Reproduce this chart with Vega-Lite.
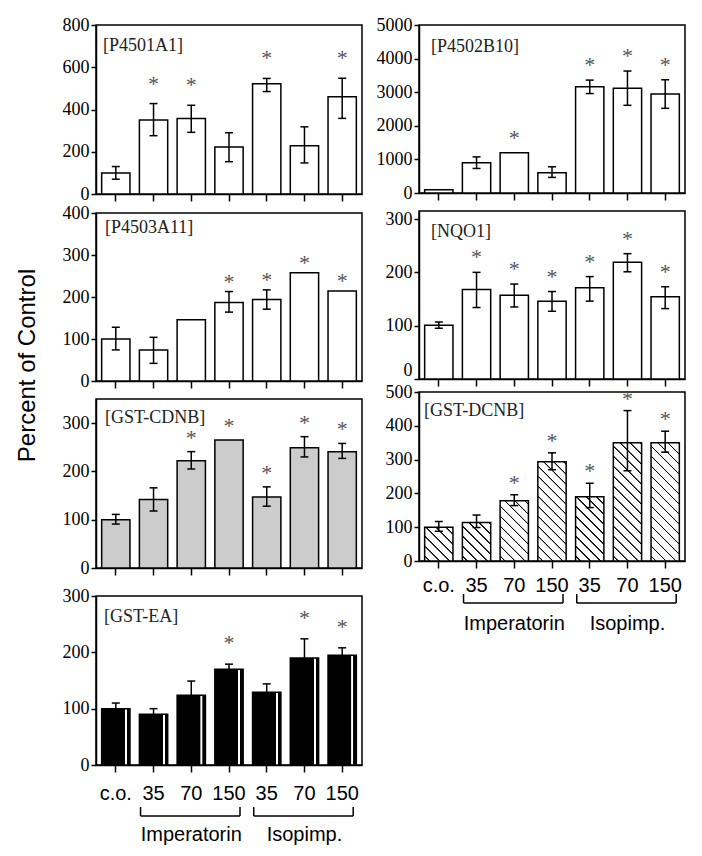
{
"$schema":"https://vega.github.io/schema/vega-lite/v6.json",
"padding":{"left":14,"top":15,"right":2,"bottom":2},
"background":"white",
"datasets":{"d":[
{"p":"A1","k":"c.o.","v":100,"lo":70,"hi":130,"s":0},
{"p":"A1","k":"I35","v":350,"lo":276,"hi":428,"s":1},
{"p":"A1","k":"I70","v":357,"lo":292,"hi":420,"s":1},
{"p":"A1","k":"I150","v":222,"lo":153,"hi":290,"s":0},
{"p":"A1","k":"P35","v":522,"lo":485,"hi":547,"s":1},
{"p":"A1","k":"P70","v":228,"lo":147,"hi":318,"s":0},
{"p":"A1","k":"P150","v":460,"lo":358,"hi":548,"s":1},
{"p":"B10","k":"c.o.","v":100,"lo":100,"hi":100,"s":0},
{"p":"B10","k":"I35","v":900,"lo":730,"hi":1075,"s":0},
{"p":"B10","k":"I70","v":1200,"lo":1200,"hi":1200,"s":1},
{"p":"B10","k":"I150","v":600,"lo":465,"hi":780,"s":0},
{"p":"B10","k":"P35","v":3160,"lo":2960,"hi":3360,"s":1},
{"p":"B10","k":"P70","v":3120,"lo":2610,"hi":3630,"s":1},
{"p":"B10","k":"P150","v":2950,"lo":2520,"hi":3370,"s":1},
{"p":"A11","k":"c.o.","v":100,"lo":74,"hi":128,"s":0},
{"p":"A11","k":"I35","v":74,"lo":42,"hi":104,"s":0},
{"p":"A11","k":"I70","v":146,"lo":146,"hi":146,"s":0},
{"p":"A11","k":"I150","v":187,"lo":164,"hi":213,"s":1},
{"p":"A11","k":"P35","v":194,"lo":171,"hi":217,"s":1},
{"p":"A11","k":"P70","v":258,"lo":258,"hi":258,"s":1},
{"p":"A11","k":"P150","v":214,"lo":214,"hi":214,"s":1},
{"p":"NQ","k":"c.o.","v":101,"lo":95,"hi":107,"s":0},
{"p":"NQ","k":"I35","v":168,"lo":134,"hi":200,"s":1},
{"p":"NQ","k":"I70","v":157,"lo":135,"hi":178,"s":1},
{"p":"NQ","k":"I150","v":146,"lo":127,"hi":164,"s":1},
{"p":"NQ","k":"P35","v":171,"lo":146,"hi":192,"s":1},
{"p":"NQ","k":"P70","v":219,"lo":201,"hi":235,"s":1},
{"p":"NQ","k":"P150","v":154,"lo":132,"hi":173,"s":1},
{"p":"CD","k":"c.o.","v":100,"lo":91,"hi":111,"s":0},
{"p":"CD","k":"I35","v":142,"lo":118,"hi":166,"s":0},
{"p":"CD","k":"I70","v":222,"lo":205,"hi":241,"s":1},
{"p":"CD","k":"I150","v":265,"lo":265,"hi":265,"s":1},
{"p":"CD","k":"P35","v":147,"lo":128,"hi":168,"s":1},
{"p":"CD","k":"P70","v":249,"lo":230,"hi":272,"s":1},
{"p":"CD","k":"P150","v":241,"lo":227,"hi":258,"s":1},
{"p":"DC","k":"c.o.","v":100,"lo":88,"hi":117,"s":0},
{"p":"DC","k":"I35","v":114,"lo":99,"hi":136,"s":0},
{"p":"DC","k":"I70","v":178,"lo":164,"hi":196,"s":1},
{"p":"DC","k":"I150","v":294,"lo":270,"hi":320,"s":1},
{"p":"DC","k":"P35","v":190,"lo":158,"hi":230,"s":1},
{"p":"DC","k":"P70","v":350,"lo":267,"hi":445,"s":1},
{"p":"DC","k":"P150","v":350,"lo":322,"hi":384,"s":1},
{"p":"EA","k":"c.o.","v":100,"lo":90,"hi":110,"s":0},
{"p":"EA","k":"I35","v":90,"lo":80,"hi":100,"s":0},
{"p":"EA","k":"I70","v":124,"lo":99,"hi":149,"s":0},
{"p":"EA","k":"I150","v":170,"lo":161,"hi":179,"s":1},
{"p":"EA","k":"P35","v":129,"lo":114,"hi":144,"s":0},
{"p":"EA","k":"P70","v":190,"lo":156,"hi":224,"s":1},
{"p":"EA","k":"P150","v":195,"lo":182,"hi":208,"s":1}
]},
"data":{"name":"d"},
"config":{
"font":"Liberation Sans",
"view":{"stroke":null},
"axis":{"grid":false,"domainColor":"black","domainWidth":1.5,"tickColor":"black","tickWidth":1.5,"labelColor":"black","titleColor":"black"},
"axisX":{"tickSize":7,"labelAngle":0,"labelFont":"Liberation Sans","labelFontSize":20},
"axisY":{"tickSize":5,"labelPadding":2,"labelFont":"Liberation Serif","labelFontSize":18,"labelOverlap":false,"format":"d"}
},
"spacing":12,
"hconcat":[
{"spacing":0,"bounds":"flush","vconcat":[
{"width":266,"height":169,"view":{"stroke":"black","strokeWidth":1.5},
"title":{"text":"[P4501A1]","frame":"group","anchor":"start","offset":-53,"dx":7,"baseline":"alphabetic","font":"Liberation Serif","fontSize":18,"fontWeight":"normal","color":"#222"},
"transform":[{"filter":"datum.p=='A1'"}],
"encoding":{"x":{"field":"k","type":"nominal","title":null,"scale":{"domain":["c.o.","I35","I70","I150","P35","P70","P150"],"paddingInner":0.25,"paddingOuter":0.15},"axis":{"labels":false}}},
"layer":[
{"mark":{"type":"bar","fill":"white","stroke":"black","strokeWidth":1.5},"encoding":{"y":{"field":"v","type":"quantitative","title":null,"scale":{"domain":[0,800],"nice":false},"axis":{"values":[0,200,400,600,800],"tickCount":5,"labelOverlap":false,"format":"d"}}}},
{"transform":[{"filter":"datum.hi>datum.lo"}],"mark":{"type":"rule","color":"black","strokeWidth":1.5},"encoding":{"y":{"field":"lo","type":"quantitative","title":null,"axis":{"values":[0,200,400,600,800],"tickCount":5,"labelOverlap":false,"format":"d"}},"y2":{"field":"hi","title":null}}},
{"transform":[{"filter":"datum.hi>datum.lo"}],"mark":{"type":"tick","color":"black","size":8,"thickness":1.5,"opacity":1},"encoding":{"y":{"field":"lo","type":"quantitative","title":null,"axis":{"values":[0,200,400,600,800],"tickCount":5,"labelOverlap":false,"format":"d"}}}},
{"transform":[{"filter":"datum.hi>datum.lo"}],"mark":{"type":"tick","color":"black","size":8,"thickness":1.5,"opacity":1},"encoding":{"y":{"field":"hi","type":"quantitative","title":null,"axis":{"values":[0,200,400,600,800],"tickCount":5,"labelOverlap":false,"format":"d"}}}},
{"transform":[{"filter":"datum.s==1"}],"mark":{"type":"text","text":"*","font":"Liberation Serif","fontSize":22,"color":"#555","baseline":"alphabetic","dy":-13},"encoding":{"y":{"field":"hi","type":"quantitative","title":null,"axis":{"values":[0,200,400,600,800],"tickCount":5,"labelOverlap":false,"format":"d"}}}}
]},
{"width":10,"height":19,"data":{"values":[]},"mark":{"type":"point","opacity":0}},
{"width":266,"height":168,"view":{"stroke":"black","strokeWidth":1.5},
"title":{"text":"[P4503A11]","frame":"group","anchor":"start","offset":-47,"dx":9,"baseline":"alphabetic","font":"Liberation Serif","fontSize":18,"fontWeight":"normal","color":"#222"},
"transform":[{"filter":"datum.p=='A11'"}],
"encoding":{"x":{"field":"k","type":"nominal","title":null,"scale":{"domain":["c.o.","I35","I70","I150","P35","P70","P150"],"paddingInner":0.25,"paddingOuter":0.15},"axis":{"labels":false}}},
"layer":[
{"mark":{"type":"bar","fill":"white","stroke":"black","strokeWidth":1.5},"encoding":{"y":{"field":"v","type":"quantitative","title":"Percent of Control","scale":{"domain":[0,400],"nice":false},"axis":{"values":[0,100,200,300,400],"tickCount":5,"labelOverlap":false,"format":"d","title":"Percent of Control","titleFont":"Liberation Sans","titleFontSize":24,"titleFontWeight":"normal","titleX":-62,"titleY":152,"titleAngle":-90,"titleAlign":"center","titleBaseline":"alphabetic"}}}},
{"transform":[{"filter":"datum.hi>datum.lo"}],"mark":{"type":"rule","color":"black","strokeWidth":1.5},"encoding":{"y":{"field":"lo","type":"quantitative","title":"Percent of Control","axis":{"values":[0,100,200,300,400],"tickCount":5,"labelOverlap":false,"format":"d","title":"Percent of Control","titleFont":"Liberation Sans","titleFontSize":24,"titleFontWeight":"normal","titleX":-62,"titleY":152,"titleAngle":-90,"titleAlign":"center","titleBaseline":"alphabetic"}},"y2":{"field":"hi","title":"Percent of Control"}}},
{"transform":[{"filter":"datum.hi>datum.lo"}],"mark":{"type":"tick","color":"black","size":8,"thickness":1.5,"opacity":1},"encoding":{"y":{"field":"lo","type":"quantitative","title":"Percent of Control","axis":{"values":[0,100,200,300,400],"tickCount":5,"labelOverlap":false,"format":"d","title":"Percent of Control","titleFont":"Liberation Sans","titleFontSize":24,"titleFontWeight":"normal","titleX":-62,"titleY":152,"titleAngle":-90,"titleAlign":"center","titleBaseline":"alphabetic"}}}},
{"transform":[{"filter":"datum.hi>datum.lo"}],"mark":{"type":"tick","color":"black","size":8,"thickness":1.5,"opacity":1},"encoding":{"y":{"field":"hi","type":"quantitative","title":"Percent of Control","axis":{"values":[0,100,200,300,400],"tickCount":5,"labelOverlap":false,"format":"d","title":"Percent of Control","titleFont":"Liberation Sans","titleFontSize":24,"titleFontWeight":"normal","titleX":-62,"titleY":152,"titleAngle":-90,"titleAlign":"center","titleBaseline":"alphabetic"}}}},
{"transform":[{"filter":"datum.s==1"}],"mark":{"type":"text","text":"*","font":"Liberation Serif","fontSize":22,"color":"#555","baseline":"alphabetic","dy":-3},"encoding":{"y":{"field":"hi","type":"quantitative","title":"Percent of Control","axis":{"values":[0,100,200,300,400],"tickCount":5,"labelOverlap":false,"format":"d","title":"Percent of Control","titleFont":"Liberation Sans","titleFontSize":24,"titleFontWeight":"normal","titleX":-62,"titleY":152,"titleAngle":-90,"titleAlign":"center","titleBaseline":"alphabetic"}}}}
]},
{"width":10,"height":18,"data":{"values":[]},"mark":{"type":"point","opacity":0}},
{"width":266,"height":169,"view":{"stroke":"black","strokeWidth":1.5},
"title":{"text":"[GST-CDNB]","frame":"group","anchor":"start","offset":-42,"dx":9,"baseline":"alphabetic","font":"Liberation Serif","fontSize":18,"fontWeight":"normal","color":"#222"},
"transform":[{"filter":"datum.p=='CD'"}],
"encoding":{"x":{"field":"k","type":"nominal","title":null,"scale":{"domain":["c.o.","I35","I70","I150","P35","P70","P150"],"paddingInner":0.25,"paddingOuter":0.15},"axis":{"labels":false}}},
"layer":[
{"mark":{"type":"bar","fill":"#cccccc","stroke":"black","strokeWidth":1.5},"encoding":{"y":{"field":"v","type":"quantitative","title":null,"scale":{"domain":[0,350],"nice":false},"axis":{"values":[0,100,200,300],"tickCount":4,"labelOverlap":false,"format":"d"}}}},
{"transform":[{"filter":"datum.hi>datum.lo"}],"mark":{"type":"rule","color":"black","strokeWidth":1.5},"encoding":{"y":{"field":"lo","type":"quantitative","title":null,"axis":{"values":[0,100,200,300],"tickCount":4,"labelOverlap":false,"format":"d"}},"y2":{"field":"hi","title":null}}},
{"transform":[{"filter":"datum.hi>datum.lo"}],"mark":{"type":"tick","color":"black","size":8,"thickness":1.5,"opacity":1},"encoding":{"y":{"field":"lo","type":"quantitative","title":null,"axis":{"values":[0,100,200,300],"tickCount":4,"labelOverlap":false,"format":"d"}}}},
{"transform":[{"filter":"datum.hi>datum.lo"}],"mark":{"type":"tick","color":"black","size":8,"thickness":1.5,"opacity":1},"encoding":{"y":{"field":"hi","type":"quantitative","title":null,"axis":{"values":[0,100,200,300],"tickCount":4,"labelOverlap":false,"format":"d"}}}},
{"transform":[{"filter":"datum.s==1"}],"mark":{"type":"text","text":"*","font":"Liberation Serif","fontSize":22,"color":"#555","baseline":"alphabetic","dy":-7},"encoding":{"y":{"field":"hi","type":"quantitative","title":null,"axis":{"values":[0,100,200,300],"tickCount":4,"labelOverlap":false,"format":"d"}}}}
]},
{"width":10,"height":28,"data":{"values":[]},"mark":{"type":"point","opacity":0}},
{"width":266,"height":169,"view":{"stroke":"black","strokeWidth":1.5},
"title":{"text":"[GST-EA]","frame":"group","anchor":"start","offset":-53,"dx":8,"baseline":"alphabetic","font":"Liberation Serif","fontSize":18,"fontWeight":"normal","color":"#222"},
"transform":[{"filter":"datum.p=='EA'"}],
"encoding":{"x":{"field":"k","type":"nominal","title":null,"scale":{"domain":["c.o.","I35","I70","I150","P35","P70","P150"],"paddingInner":0.25,"paddingOuter":0.15},"axis":{"labels":true,"labelPadding":11,"labelExpr":"datum.value=='c.o.' ? 'c.o.' : substring(datum.value,1)"}}},
"layer":[
{"mark":{"type":"bar","stroke":"black","strokeWidth":1.5,"fill":{"gradient":"linear","x1":0,"y1":0,"x2":1,"y2":0,"stops":[{"offset":0,"color":"#000"},{"offset":0.82,"color":"#000"},{"offset":0.83,"color":"#fff"},{"offset":0.89,"color":"#fff"},{"offset":0.9,"color":"#000"},{"offset":1,"color":"#000"}]}},"encoding":{"y":{"field":"v","type":"quantitative","title":null,"scale":{"domain":[0,300],"nice":false},"axis":{"values":[0,100,200,300],"tickCount":4,"labelOverlap":false,"format":"d"}}}},
{"transform":[{"filter":"datum.hi>datum.lo"}],"mark":{"type":"rule","color":"black","strokeWidth":1.5},"encoding":{"y":{"field":"lo","type":"quantitative","title":null,"axis":{"values":[0,100,200,300],"tickCount":4,"labelOverlap":false,"format":"d"}},"y2":{"field":"hi","title":null}}},
{"transform":[{"filter":"datum.hi>datum.lo"}],"mark":{"type":"tick","color":"black","size":8,"thickness":1.5,"opacity":1},"encoding":{"y":{"field":"hi","type":"quantitative","title":null,"axis":{"values":[0,100,200,300],"tickCount":4,"labelOverlap":false,"format":"d"}}}},
{"transform":[{"filter":"datum.s==1"}],"mark":{"type":"text","text":"*","font":"Liberation Serif","fontSize":22,"color":"#555","baseline":"alphabetic","dy":-14},"encoding":{"y":{"field":"hi","type":"quantitative","title":null,"axis":{"values":[0,100,200,300],"tickCount":4,"labelOverlap":false,"format":"d"}}}}
]},
{"width":10,"height":42,"data":{"values":[]},"mark":{"type":"point","opacity":0}},
{"width":266,"height":40,
"data":{"values":[{"g":"Imperatorin","a":"I35","m":"I70","b":"I150"},{"g":"Isopimp.","a":"P35","m":"P70","b":"P150"}]},
"encoding":{"x":{"field":"a","type":"nominal","scale":{"domain":["c.o.","I35","I70","I150","P35","P70","P150"],"paddingInner":0.25,"paddingOuter":0.15},"axis":null}},
"layer":[
{"mark":{"type":"rule","color":"black","strokeWidth":1.5,"xOffset":-13,"x2Offset":11},"encoding":{"x2":{"field":"b"},"y":{"datum":9,"type":"quantitative","scale":{"domain":[0,40],"reverse":true},"axis":null}}},
{"mark":{"type":"rule","color":"black","strokeWidth":1.5,"xOffset":-13},"encoding":{"y":{"datum":0,"type":"quantitative","axis":null},"y2":{"datum":9}}},
{"mark":{"type":"rule","color":"black","strokeWidth":1.5,"xOffset":11},"encoding":{"x":{"field":"b","type":"nominal","axis":null},"y":{"datum":0,"type":"quantitative","axis":null},"y2":{"datum":9}}},
{"mark":{"type":"text","fontSize":20,"font":"Liberation Sans","color":"black","baseline":"middle","align":"center"},"encoding":{"x":{"field":"m","type":"nominal","axis":null},"y":{"datum":28,"type":"quantitative","axis":null},"text":{"field":"g"}}}
]}
]},
{"spacing":0,"bounds":"flush","vconcat":[
{"width":266,"height":168,"view":{"stroke":"black","strokeWidth":1.5},
"title":{"text":"[P4502B10]","frame":"group","anchor":"start","offset":-54,"dx":12,"baseline":"alphabetic","font":"Liberation Serif","fontSize":18,"fontWeight":"normal","color":"#222"},
"transform":[{"filter":"datum.p=='B10'"}],
"encoding":{"x":{"field":"k","type":"nominal","title":null,"scale":{"domain":["c.o.","I35","I70","I150","P35","P70","P150"],"paddingInner":0.25,"paddingOuter":0.15},"axis":{"labels":false}}},
"layer":[
{"mark":{"type":"bar","fill":"white","stroke":"black","strokeWidth":1.5},"encoding":{"y":{"field":"v","type":"quantitative","title":null,"scale":{"domain":[0,5000],"nice":false},"axis":{"values":[0,1000,2000,3000,4000,5000],"tickCount":6,"labelOverlap":false,"format":"d"}}}},
{"transform":[{"filter":"datum.hi>datum.lo"}],"mark":{"type":"rule","color":"black","strokeWidth":1.5},"encoding":{"y":{"field":"lo","type":"quantitative","title":null,"axis":{"values":[0,1000,2000,3000,4000,5000],"tickCount":6,"labelOverlap":false,"format":"d"}},"y2":{"field":"hi","title":null}}},
{"transform":[{"filter":"datum.hi>datum.lo"}],"mark":{"type":"tick","color":"black","size":8,"thickness":1.5,"opacity":1},"encoding":{"y":{"field":"lo","type":"quantitative","title":null,"axis":{"values":[0,1000,2000,3000,4000,5000],"tickCount":6,"labelOverlap":false,"format":"d"}}}},
{"transform":[{"filter":"datum.hi>datum.lo"}],"mark":{"type":"tick","color":"black","size":8,"thickness":1.5,"opacity":1},"encoding":{"y":{"field":"hi","type":"quantitative","title":null,"axis":{"values":[0,1000,2000,3000,4000,5000],"tickCount":6,"labelOverlap":false,"format":"d"}}}},
{"transform":[{"filter":"datum.s==1"}],"mark":{"type":"text","text":"*","font":"Liberation Serif","fontSize":22,"color":"#555","baseline":"alphabetic","dy":-8},"encoding":{"y":{"field":"hi","type":"quantitative","title":null,"axis":{"values":[0,1000,2000,3000,4000,5000],"tickCount":6,"labelOverlap":false,"format":"d"}}}}
]},
{"width":10,"height":18,"data":{"values":[]},"mark":{"type":"point","opacity":0}},
{"width":266,"height":168,"view":{"stroke":"black","strokeWidth":1.5},
"title":{"text":"[NQO1]","frame":"group","anchor":"start","offset":-45,"dx":12,"baseline":"alphabetic","font":"Liberation Serif","fontSize":18,"fontWeight":"normal","color":"#222"},
"transform":[{"filter":"datum.p=='NQ'"}],
"encoding":{"x":{"field":"k","type":"nominal","title":null,"scale":{"domain":["c.o.","I35","I70","I150","P35","P70","P150"],"paddingInner":0.25,"paddingOuter":0.15},"axis":{"labels":false}}},
"layer":[
{"mark":{"type":"bar","fill":"white","stroke":"black","strokeWidth":1.5},"encoding":{"y":{"field":"v","type":"quantitative","title":null,"scale":{"domain":[0,315],"nice":false},"axis":{"values":[0,100,200,300],"tickCount":4,"labelOverlap":false,"labelFlush":true,"format":"d"}}}},
{"transform":[{"filter":"datum.hi>datum.lo"}],"mark":{"type":"rule","color":"black","strokeWidth":1.5},"encoding":{"y":{"field":"lo","type":"quantitative","title":null,"axis":{"values":[0,100,200,300],"tickCount":4,"labelOverlap":false,"labelFlush":true,"format":"d"}},"y2":{"field":"hi","title":null}}},
{"transform":[{"filter":"datum.hi>datum.lo"}],"mark":{"type":"tick","color":"black","size":8,"thickness":1.5,"opacity":1},"encoding":{"y":{"field":"lo","type":"quantitative","title":null,"axis":{"values":[0,100,200,300],"tickCount":4,"labelOverlap":false,"labelFlush":true,"format":"d"}}}},
{"transform":[{"filter":"datum.hi>datum.lo"}],"mark":{"type":"tick","color":"black","size":8,"thickness":1.5,"opacity":1},"encoding":{"y":{"field":"hi","type":"quantitative","title":null,"axis":{"values":[0,100,200,300],"tickCount":4,"labelOverlap":false,"labelFlush":true,"format":"d"}}}},
{"transform":[{"filter":"datum.s==1"}],"mark":{"type":"text","text":"*","font":"Liberation Serif","fontSize":22,"color":"#555","baseline":"alphabetic","dy":-8},"encoding":{"y":{"field":"hi","type":"quantitative","title":null,"axis":{"values":[0,100,200,300],"tickCount":4,"labelOverlap":false,"labelFlush":true,"format":"d"}}}}
]},
{"width":10,"height":13,"data":{"values":[]},"mark":{"type":"point","opacity":0}},
{"width":266,"height":169,"view":{"stroke":"black","strokeWidth":1.5},
"title":{"text":"[GST-DCNB]","frame":"group","anchor":"start","offset":-51,"dx":5,"baseline":"alphabetic","font":"Liberation Serif","fontSize":18,"fontWeight":"normal","color":"#222"},
"transform":[{"filter":"datum.p=='DC'"}],
"encoding":{"x":{"field":"k","type":"nominal","title":null,"scale":{"domain":["c.o.","I35","I70","I150","P35","P70","P150"],"paddingInner":0.25,"paddingOuter":0.15},"axis":{"labels":true,"labelPadding":7,"labelExpr":"datum.value=='c.o.' ? 'c.o.' : substring(datum.value,1)"}}},
"layer":[
{"mark":{"type":"bar","stroke":"black","strokeWidth":1.5},"encoding":{"y":{"field":"v","type":"quantitative","title":null,"scale":{"domain":[0,500],"nice":false},"axis":{"values":[0,100,200,300,400,500],"tickCount":6,"labelOverlap":false,"format":"d"}},
"fill":{"condition":[
{"test":"datum.k=='c.o.'","value":{"gradient":"linear","x1":0,"y1":1,"x2":0.9044,"y2":-0.0801,"stops":[{"offset":0.0644,"color":"#fff"},{"offset":0.0725,"color":"#000"},{"offset":0.0886,"color":"#000"},{"offset":0.0966,"color":"#fff"},{"offset":0.2254,"color":"#fff"},{"offset":0.2335,"color":"#000"},{"offset":0.2496,"color":"#000"},{"offset":0.2576,"color":"#fff"},{"offset":0.3865,"color":"#fff"},{"offset":0.3945,"color":"#000"},{"offset":0.4106,"color":"#000"},{"offset":0.4187,"color":"#fff"},{"offset":0.5475,"color":"#fff"},{"offset":0.5556,"color":"#000"},{"offset":0.5717,"color":"#000"},{"offset":0.5797,"color":"#fff"},{"offset":0.7085,"color":"#fff"},{"offset":0.7166,"color":"#000"},{"offset":0.7327,"color":"#000"},{"offset":0.7407,"color":"#fff"},{"offset":0.8696,"color":"#fff"},{"offset":0.8776,"color":"#000"},{"offset":0.8937,"color":"#000"},{"offset":0.9018,"color":"#fff"}]}},
{"test":"datum.k=='I35'","value":{"gradient":"linear","x1":0,"y1":1,"x2":0.828,"y2":-0.1264,"stops":[{"offset":0.0599,"color":"#fff"},{"offset":0.0674,"color":"#000"},{"offset":0.0823,"color":"#000"},{"offset":0.0898,"color":"#fff"},{"offset":0.2096,"color":"#fff"},{"offset":0.2171,"color":"#000"},{"offset":0.232,"color":"#000"},{"offset":0.2395,"color":"#fff"},{"offset":0.3593,"color":"#fff"},{"offset":0.3668,"color":"#000"},{"offset":0.3817,"color":"#000"},{"offset":0.3892,"color":"#fff"},{"offset":0.509,"color":"#fff"},{"offset":0.5165,"color":"#000"},{"offset":0.5314,"color":"#000"},{"offset":0.5389,"color":"#fff"},{"offset":0.6587,"color":"#fff"},{"offset":0.6662,"color":"#000"},{"offset":0.6811,"color":"#000"},{"offset":0.6886,"color":"#fff"},{"offset":0.8084,"color":"#fff"},{"offset":0.8159,"color":"#000"},{"offset":0.8308,"color":"#000"},{"offset":0.8383,"color":"#fff"},{"offset":0.9581,"color":"#fff"},{"offset":0.9656,"color":"#000"},{"offset":0.9805,"color":"#000"},{"offset":0.988,"color":"#fff"}]}},
{"test":"datum.k=='I70'","value":{"gradient":"linear","x1":0,"y1":1,"x2":0.566,"y2":-0.204,"stops":[{"offset":0.0452,"color":"#fff"},{"offset":0.0508,"color":"#000"},{"offset":0.0621,"color":"#000"},{"offset":0.0678,"color":"#fff"},{"offset":0.1582,"color":"#fff"},{"offset":0.1638,"color":"#000"},{"offset":0.1751,"color":"#000"},{"offset":0.1808,"color":"#fff"},{"offset":0.2712,"color":"#fff"},{"offset":0.2768,"color":"#000"},{"offset":0.2881,"color":"#000"},{"offset":0.2938,"color":"#fff"},{"offset":0.3842,"color":"#fff"},{"offset":0.3898,"color":"#000"},{"offset":0.4011,"color":"#000"},{"offset":0.4068,"color":"#fff"},{"offset":0.4972,"color":"#fff"},{"offset":0.5028,"color":"#000"},{"offset":0.5141,"color":"#000"},{"offset":0.5198,"color":"#fff"},{"offset":0.6102,"color":"#fff"},{"offset":0.6158,"color":"#000"},{"offset":0.6271,"color":"#000"},{"offset":0.6328,"color":"#fff"},{"offset":0.7232,"color":"#fff"},{"offset":0.7288,"color":"#000"},{"offset":0.7401,"color":"#000"},{"offset":0.7458,"color":"#fff"},{"offset":0.8362,"color":"#fff"},{"offset":0.8418,"color":"#000"},{"offset":0.8531,"color":"#000"},{"offset":0.8588,"color":"#fff"},{"offset":0.9492,"color":"#fff"},{"offset":0.9548,"color":"#000"},{"offset":0.9661,"color":"#000"},{"offset":0.9718,"color":"#fff"}]}},
{"test":"datum.k=='I150'","value":{"gradient":"linear","x1":0,"y1":1,"x2":0.3383,"y2":-0.1884,"stops":[{"offset":0.0313,"color":"#fff"},{"offset":0.0352,"color":"#000"},{"offset":0.0431,"color":"#000"},{"offset":0.047,"color":"#fff"},{"offset":0.1096,"color":"#fff"},{"offset":0.1135,"color":"#000"},{"offset":0.1214,"color":"#000"},{"offset":0.1253,"color":"#fff"},{"offset":0.1879,"color":"#fff"},{"offset":0.1919,"color":"#000"},{"offset":0.1997,"color":"#000"},{"offset":0.2036,"color":"#fff"},{"offset":0.2662,"color":"#fff"},{"offset":0.2702,"color":"#000"},{"offset":0.278,"color":"#000"},{"offset":0.2819,"color":"#fff"},{"offset":0.3446,"color":"#fff"},{"offset":0.3485,"color":"#000"},{"offset":0.3563,"color":"#000"},{"offset":0.3602,"color":"#fff"},{"offset":0.4229,"color":"#fff"},{"offset":0.4268,"color":"#000"},{"offset":0.4346,"color":"#000"},{"offset":0.4385,"color":"#fff"},{"offset":0.5012,"color":"#fff"},{"offset":0.5051,"color":"#000"},{"offset":0.5129,"color":"#000"},{"offset":0.5168,"color":"#fff"},{"offset":0.5795,"color":"#fff"},{"offset":0.5834,"color":"#000"},{"offset":0.5912,"color":"#000"},{"offset":0.5951,"color":"#fff"},{"offset":0.6578,"color":"#fff"},{"offset":0.6617,"color":"#000"},{"offset":0.6695,"color":"#000"},{"offset":0.6734,"color":"#fff"},{"offset":0.7361,"color":"#fff"},{"offset":0.74,"color":"#000"},{"offset":0.7479,"color":"#000"},{"offset":0.7518,"color":"#fff"},{"offset":0.8144,"color":"#fff"},{"offset":0.8183,"color":"#000"},{"offset":0.8262,"color":"#000"},{"offset":0.8301,"color":"#fff"},{"offset":0.8927,"color":"#fff"},{"offset":0.8966,"color":"#000"},{"offset":0.9045,"color":"#000"},{"offset":0.9084,"color":"#fff"},{"offset":0.971,"color":"#fff"},{"offset":0.9749,"color":"#000"},{"offset":0.9828,"color":"#000"},{"offset":0.9867,"color":"#fff"}]}},
{"test":"datum.k=='P35'","value":{"gradient":"linear","x1":0,"y1":1,"x2":0.5318,"y2":-0.2064,"stops":[{"offset":0.0432,"color":"#fff"},{"offset":0.0486,"color":"#000"},{"offset":0.0595,"color":"#000"},{"offset":0.0649,"color":"#fff"},{"offset":0.1514,"color":"#fff"},{"offset":0.1568,"color":"#000"},{"offset":0.1676,"color":"#000"},{"offset":0.173,"color":"#fff"},{"offset":0.2595,"color":"#fff"},{"offset":0.2649,"color":"#000"},{"offset":0.2757,"color":"#000"},{"offset":0.2811,"color":"#fff"},{"offset":0.3676,"color":"#fff"},{"offset":0.373,"color":"#000"},{"offset":0.3838,"color":"#000"},{"offset":0.3892,"color":"#fff"},{"offset":0.4757,"color":"#fff"},{"offset":0.4811,"color":"#000"},{"offset":0.4919,"color":"#000"},{"offset":0.4973,"color":"#fff"},{"offset":0.5838,"color":"#fff"},{"offset":0.5892,"color":"#000"},{"offset":0.6,"color":"#000"},{"offset":0.6054,"color":"#fff"},{"offset":0.6919,"color":"#fff"},{"offset":0.6973,"color":"#000"},{"offset":0.7081,"color":"#000"},{"offset":0.7135,"color":"#fff"},{"offset":0.8,"color":"#fff"},{"offset":0.8054,"color":"#000"},{"offset":0.8162,"color":"#000"},{"offset":0.8216,"color":"#fff"},{"offset":0.9081,"color":"#fff"},{"offset":0.9135,"color":"#000"},{"offset":0.9243,"color":"#000"},{"offset":0.9297,"color":"#fff"}]}},
{"test":"datum.k=='P70'||datum.k=='P150'","value":{"gradient":"linear","x1":0,"y1":1,"x2":0.2804,"y2":-0.1721,"stops":[{"offset":0.0273,"color":"#fff"},{"offset":0.0307,"color":"#000"},{"offset":0.0375,"color":"#000"},{"offset":0.0409,"color":"#fff"},{"offset":0.0955,"color":"#fff"},{"offset":0.0989,"color":"#000"},{"offset":0.1057,"color":"#000"},{"offset":0.1091,"color":"#fff"},{"offset":0.1637,"color":"#fff"},{"offset":0.1671,"color":"#000"},{"offset":0.1739,"color":"#000"},{"offset":0.1774,"color":"#fff"},{"offset":0.2319,"color":"#fff"},{"offset":0.2353,"color":"#000"},{"offset":0.2422,"color":"#000"},{"offset":0.2456,"color":"#fff"},{"offset":0.3001,"color":"#fff"},{"offset":0.3035,"color":"#000"},{"offset":0.3104,"color":"#000"},{"offset":0.3138,"color":"#fff"},{"offset":0.3684,"color":"#fff"},{"offset":0.3718,"color":"#000"},{"offset":0.3786,"color":"#000"},{"offset":0.382,"color":"#fff"},{"offset":0.4366,"color":"#fff"},{"offset":0.44,"color":"#000"},{"offset":0.4468,"color":"#000"},{"offset":0.4502,"color":"#fff"},{"offset":0.5048,"color":"#fff"},{"offset":0.5082,"color":"#000"},{"offset":0.515,"color":"#000"},{"offset":0.5184,"color":"#fff"},{"offset":0.573,"color":"#fff"},{"offset":0.5764,"color":"#000"},{"offset":0.5832,"color":"#000"},{"offset":0.5866,"color":"#fff"},{"offset":0.6412,"color":"#fff"},{"offset":0.6446,"color":"#000"},{"offset":0.6514,"color":"#000"},{"offset":0.6548,"color":"#fff"},{"offset":0.7094,"color":"#fff"},{"offset":0.7128,"color":"#000"},{"offset":0.7197,"color":"#000"},{"offset":0.7231,"color":"#fff"},{"offset":0.7776,"color":"#fff"},{"offset":0.781,"color":"#000"},{"offset":0.7879,"color":"#000"},{"offset":0.7913,"color":"#fff"},{"offset":0.8458,"color":"#fff"},{"offset":0.8492,"color":"#000"},{"offset":0.8561,"color":"#000"},{"offset":0.8595,"color":"#fff"},{"offset":0.9141,"color":"#fff"},{"offset":0.9175,"color":"#000"},{"offset":0.9243,"color":"#000"},{"offset":0.9277,"color":"#fff"},{"offset":0.9823,"color":"#fff"},{"offset":0.9857,"color":"#000"},{"offset":0.9925,"color":"#000"},{"offset":0.9959,"color":"#fff"}]}}
],"value":"white"}}},
{"transform":[{"filter":"datum.hi>datum.lo"}],"mark":{"type":"rule","color":"black","strokeWidth":1.5},"encoding":{"y":{"field":"lo","type":"quantitative","title":null,"axis":{"values":[0,100,200,300,400,500],"tickCount":6,"labelOverlap":false,"format":"d"}},"y2":{"field":"hi","title":null}}},
{"transform":[{"filter":"datum.hi>datum.lo"}],"mark":{"type":"tick","color":"black","size":8,"thickness":1.5,"opacity":1},"encoding":{"y":{"field":"lo","type":"quantitative","title":null,"axis":{"values":[0,100,200,300,400,500],"tickCount":6,"labelOverlap":false,"format":"d"}}}},
{"transform":[{"filter":"datum.hi>datum.lo"}],"mark":{"type":"tick","color":"black","size":8,"thickness":1.5,"opacity":1},"encoding":{"y":{"field":"hi","type":"quantitative","title":null,"axis":{"values":[0,100,200,300,400,500],"tickCount":6,"labelOverlap":false,"format":"d"}}}},
{"transform":[{"filter":"datum.s==1"}],"mark":{"type":"text","text":"*","font":"Liberation Serif","fontSize":22,"color":"#555","baseline":"alphabetic","dy":-5},"encoding":{"y":{"field":"hi","type":"quantitative","title":null,"axis":{"values":[0,100,200,300,400,500],"tickCount":6,"labelOverlap":false,"format":"d"}}}}
]},
{"width":10,"height":33,"data":{"values":[]},"mark":{"type":"point","opacity":0}},
{"width":266,"height":40,
"data":{"values":[{"g":"Imperatorin","a":"I35","m":"I70","b":"I150"},{"g":"Isopimp.","a":"P35","m":"P70","b":"P150"}]},
"encoding":{"x":{"field":"a","type":"nominal","scale":{"domain":["c.o.","I35","I70","I150","P35","P70","P150"],"paddingInner":0.25,"paddingOuter":0.15},"axis":null}},
"layer":[
{"mark":{"type":"rule","color":"black","strokeWidth":1.5,"xOffset":-13,"x2Offset":11},"encoding":{"x2":{"field":"b"},"y":{"datum":9,"type":"quantitative","scale":{"domain":[0,40],"reverse":true},"axis":null}}},
{"mark":{"type":"rule","color":"black","strokeWidth":1.5,"xOffset":-13},"encoding":{"y":{"datum":0,"type":"quantitative","axis":null},"y2":{"datum":9}}},
{"mark":{"type":"rule","color":"black","strokeWidth":1.5,"xOffset":11},"encoding":{"x":{"field":"b","type":"nominal","axis":null},"y":{"datum":0,"type":"quantitative","axis":null},"y2":{"datum":9}}},
{"mark":{"type":"text","fontSize":20,"font":"Liberation Sans","color":"black","baseline":"middle","align":"center"},"encoding":{"x":{"field":"m","type":"nominal","axis":null},"y":{"datum":30,"type":"quantitative","axis":null},"text":{"field":"g"}}}
]}
]}
]
}
